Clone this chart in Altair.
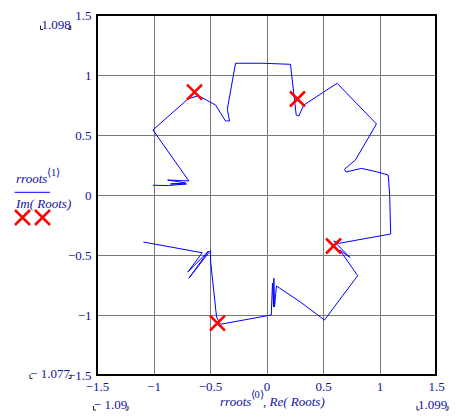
import altair as alt
import pandas as pd

# ---- data ----
path_re = [-1.09, -0.569, -0.696, -0.513, -0.687, -0.495, -0.495, -0.442, -0.407, 0.042,
           0.053, 0.062, 0.065, 0.071, 0.088, 0.30, 0.513, 0.807, 0.648, 0.737,
           0.595, 0.639, 1.099, 1.09, 1.081, 1.076, 0.973, 0.84, 0.705, 0.69,
           0.787, 0.973, 0.625, 0.33, 0.286, 0.263, 0.212, -0.033, -0.274, -0.347,
           -0.327, -0.363, -0.451, -0.604, -0.696, -1.005, -0.687, -0.875, -0.716, -0.849,
           -0.708, -0.867, -1.005]
path_im = [-0.392, -0.481, -0.642, -0.467, -0.694, -0.462, -0.55, -1.017, -1.077, -1.0,
           -0.733, -0.933, -0.694, -0.931, -0.758, -0.892, -1.042, -0.672, -0.458, -0.519,
           -0.383, -0.403, -0.325, 0.0, 0.125, 0.167, 0.194, 0.222, 0.192, 0.214,
           0.292, 0.592, 0.931, 0.75, 0.658, 0.667, 1.089, 1.098, 1.098, 0.714,
           0.617, 0.617, 0.75, 0.828, 0.8, 0.542, 0.117, 0.125, 0.1, 0.092,
           0.092, 0.079, 0.081]
roots_re = [-0.637, 0.274, 0.593, -0.434]
roots_im = [0.858, 0.80, -0.425, -1.067]
x_ticks = [-1.5, -1, -0.5, 0, 0.5, 1, 1.5]
y_ticks = [-1.5, -1, -0.5, 0, 0.5, 1, 1.5]
x_lo_label, x_hi_label = "\u2212 1.09", "1.099"
y_lo_label, y_hi_label = "\u2212 1.077", "1.098"
x_title = ["rroots", "\u27e80\u27e9", ", Re( Roots)"]
y_title = ["rroots", "\u27e81\u27e9", "Im( Roots)"]

W, H = 339, 360
NAVY = "#1212a0"
FONT = "Liberation Serif"
XPATH = "M-1,-1L1,1M1,-1L-1,1"

line_df = pd.DataFrame({"re": path_re, "im": path_im, "i": list(range(len(path_re)))})
roots_df = pd.DataFrame({"re": roots_re, "im": roots_im})
one = pd.DataFrame({"a": [0]})

xs = alt.Scale(domain=[-1.5, 1.5], nice=False, zero=False)
ys = alt.Scale(domain=[-1.5, 1.5], nice=False, zero=False)

axis_common = dict(grid=True, gridColor="#787878", gridWidth=1, gridOpacity=1,
                   domain=False, ticks=False, labelFont=FONT, labelFontSize=13,
                   labelColor=NAVY, format=".1~f", title=None, labelFlush=False,
                   labelOverlap=False)

line = alt.Chart(line_df).mark_line(color="#0000ff", strokeWidth=1).encode(
    x=alt.X("re:Q", scale=xs, axis=alt.Axis(values=x_ticks, labelPadding=5, **axis_common)),
    y=alt.Y("im:Q", scale=ys, axis=alt.Axis(values=y_ticks, labelPadding=6, **axis_common)),
    order="i:Q",
)

roots = alt.Chart(roots_df).mark_point(shape=XPATH, size=225, filled=False, color="#ff0000",
                                       strokeWidth=2.5, opacity=1).encode(
    x=alt.X("re:Q", scale=xs), y=alt.Y("im:Q", scale=ys))

frame = alt.Chart(one).mark_rect(fill="transparent", stroke="black", strokeWidth=2).encode(
    x=alt.value(0), x2=alt.value(W), y=alt.value(0), y2=alt.value(H))

layers = [line, roots, frame]


def text(s, x, y, align="left", size=13, italic=False, baseline="alphabetic"):
    return alt.Chart(one).mark_text(text=s, align=align, baseline=baseline, font=FONT,
                                    fontSize=size, fontStyle="italic" if italic else "normal",
                                    color=NAVY).encode(x=alt.value(x), y=alt.value(y))


def rule(x1, y1, x2, y2, color="#222222", w=1):
    return alt.Chart(one).mark_rule(color=color, strokeWidth=w).encode(
        x=alt.value(x1), x2=alt.value(x2), y=alt.value(y1), y2=alt.value(y2))


def bracketed(s, cx, base, left, right):
    out = [text(s, cx, base, align="center")]
    out += [rule(left, base - 3, left, base + 1), rule(left, base + 1, left + 2.5, base + 1),
            rule(right, base - 3, right, base + 1), rule(right - 2.5, base + 1, right, base + 1)]
    return out

# corner range labels
layers += bracketed(y_hi_label, -41, 13.5, -56.5, -26.3)
layers += bracketed(y_lo_label, -47, 362.5, -67, -26)
layers += bracketed(x_lo_label, 13.5, 394, -3.5, 31)
layers += bracketed(x_hi_label, 335.5, 394, 320, 351)

# x title
layers += [text(x_title[0], 123, 391, italic=True),
           text(x_title[1], 153.5, 380, size=10.5, baseline="middle"),
           text(x_title[2], 166, 391, italic=True)]

# y title with legend
layers += [text(y_title[0], -81, 168, italic=True),
           text(y_title[1], -50, 157.5, size=10.5, baseline="middle"),
           rule(-82.3, 177.3, -47, 177.3, color="#0000ff", w=1),
           text(y_title[2], -81, 193, italic=True)]
for lx in (-74.5, -54.5):
    layers.append(alt.Chart(one).mark_point(shape=XPATH, size=225, filled=False, color="#ff0000",
                                            strokeWidth=2.5, opacity=1).encode(
        x=alt.value(lx), y=alt.value(202.5)))

chart = alt.layer(*layers).properties(
    width=W, height=H,
    autosize=alt.AutoSizeParams(type="none"),
    padding={"left": 89, "top": 7, "right": 14, "bottom": 38},
).configure_view(stroke=None).configure(background="white")

chart.save("out.html", embed_options={"renderer": "svg", "actions": False})
